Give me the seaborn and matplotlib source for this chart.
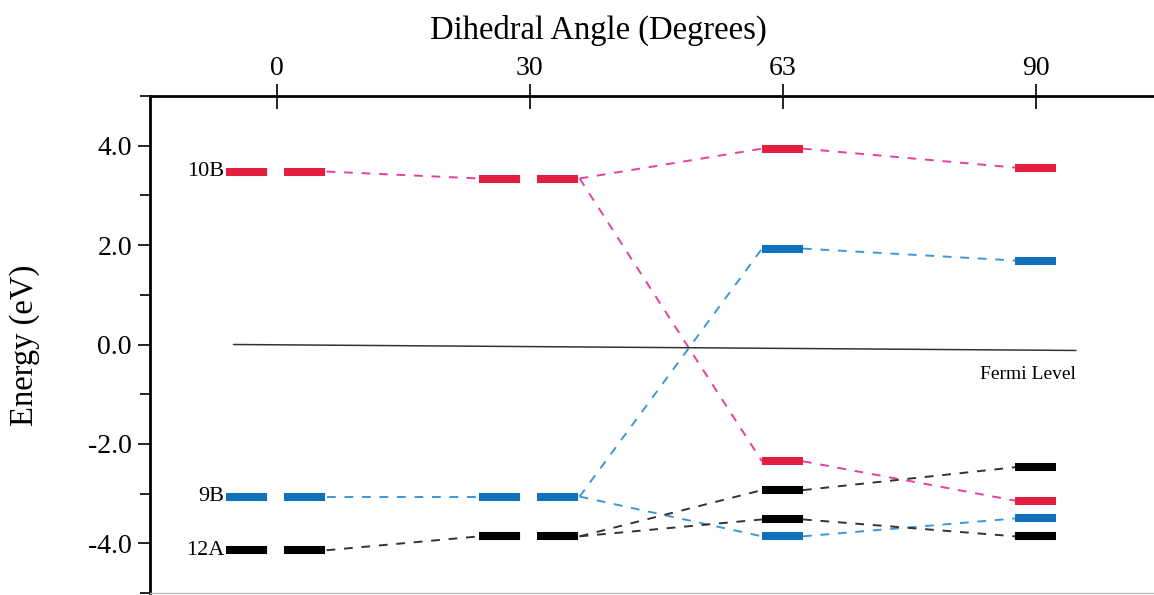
import numpy as np
import pandas as pd
import matplotlib
matplotlib.use("Agg")
import matplotlib.pyplot as plt
import seaborn as sns
from matplotlib.ticker import MultipleLocator, FormatStrFormatter

# ---------------- data ----------------
angle_labels = ["0", "30", "63", "90"]
level_pos = [0, 0, 0,
             1, 1, 1,
             2, 2, 2, 2, 2, 2,
             3, 3, 3, 3, 3, 3]
level_energy = [3.48, -3.06, -4.14,
                3.34, -3.06, -3.86,
                3.94, 1.93, -2.35, -2.93, -3.52, -3.86,
                3.56, 1.69, -2.47, -3.14, -3.50, -3.86]
level_kind = ["red", "blue", "black",
              "red", "blue", "black",
              "red", "blue", "red", "black", "black", "blue",
              "red", "blue", "black", "red", "blue", "black"]
conn_from = [0, 3, 6, 3, 8, 1, 4, 7, 4, 11, 2, 5, 5, 9, 10]
conn_to = [3, 6, 12, 8, 15, 4, 7, 13, 11, 16, 5, 9, 10, 14, 17]
label_levels = [0, 1, 2]
label_names = ["10B", "9B", "12A"]
fermi_x = [-0.17, 3.16]
fermi_y = [0.0, -0.12]

# ---------------- style ----------------
sns.set_theme(style="white")
plt.rcParams["font.family"] = ["Liberation Serif", "DejaVu Serif"]
plt.rcParams["axes.unicode_minus"] = False
plt.rcParams["text.color"] = "black"
plt.rcParams["xtick.color"] = "black"
plt.rcParams["ytick.color"] = "black"
plt.rcParams["xtick.labelcolor"] = "black"
plt.rcParams["ytick.labelcolor"] = "black"

bar_pal = {"red": "#E21F3F", "blue": "#1172BB", "black": "#000000"}
conn_pal = {"red": "#E8409A", "blue": "#3A98D8", "black": "#333333"}
wide_hw, narrow_hw = 0.198, 0.081


def half_width(p):
    return wide_hw if p < 2 else narrow_hw


fig = plt.figure(figsize=(11.54, 5.95), dpi=100)
ax = fig.add_axes([150 / 1154, 2 / 595, 1012 / 1154, 497 / 595])

# connectors
rows = []
for k, (a, b) in enumerate(zip(conn_from, conn_to)):
    rows.append(dict(seg=k, x=level_pos[a] + half_width(level_pos[a]),
                     y=level_energy[a], kind=level_kind[a]))
    rows.append(dict(seg=k, x=level_pos[b] - half_width(level_pos[b]),
                     y=level_energy[b], kind=level_kind[a]))
conn_df = pd.DataFrame(rows)
sns.lineplot(data=conn_df, x="x", y="y", hue="kind", units="seg",
             estimator=None, sort=False, palette=conn_pal, legend=False,
             lw=1.4, linestyle=(0, (4.5, 4.5)), ax=ax)

# levels
rows = []
for i, (p, e, c) in enumerate(zip(level_pos, level_energy, level_kind)):
    hw = half_width(p)
    rows.append(dict(lev=i, x=p - hw, y=e, kind=c, wide=p < 2))
    rows.append(dict(lev=i, x=p + hw, y=e, kind=c, wide=p < 2))
lev_df = pd.DataFrame(rows)
sns.lineplot(data=lev_df[lev_df.wide], x="x", y="y", hue="kind", units="lev",
             estimator=None, sort=False, palette=bar_pal, legend=False,
             lw=5.8, linestyle=(0, (5.1, 2.1)), solid_capstyle="butt",
             dash_capstyle="butt", ax=ax)
sns.lineplot(data=lev_df[~lev_df.wide], x="x", y="y", hue="kind", units="lev",
             estimator=None, sort=False, palette=bar_pal, legend=False,
             lw=5.8, solid_capstyle="butt", ax=ax)

# fermi level
ax.plot(fermi_x, fermi_y, color="#333333", lw=1.1)
ax.text(fermi_x[1], -0.6, "Fermi Level", ha="right", va="center",
        fontsize=14, color="black")

# level labels
for idx, name in zip(label_levels, label_names):
    ax.text(level_pos[idx] - wide_hw - 0.008, level_energy[idx], name,
            ha="right", va="center", fontsize=16, color="black")

# axes
ax.set_xlim(-0.5, 3.5)
ax.set_ylim(-5.0, 5.0)
ax.xaxis.tick_top()
ax.set_xticks(range(len(angle_labels)))
ax.set_xticklabels(angle_labels)
ax.set_xlabel("")
ax.set_ylabel("")
ax.yaxis.set_major_locator(MultipleLocator(2.0))
ax.yaxis.set_minor_locator(MultipleLocator(1.0))
ax.yaxis.set_major_formatter(FormatStrFormatter("%.1f"))
ax.tick_params(axis="x", which="major", direction="inout", length=18,
               width=1.2, pad=2, labelsize=20, colors="black",
               top=True, bottom=False)
ax.tick_params(axis="y", which="major", direction="out", length=9,
               width=1.2, pad=4, labelsize=20, left=True, colors="black")
ax.tick_params(axis="y", which="minor", direction="out", length=7,
               width=1.2, left=True, colors="black")
for s in ["left", "top"]:
    ax.spines[s].set_linewidth(2.0)
    ax.spines[s].set_color("black")
ax.spines["bottom"].set_linewidth(1.0)
ax.spines["bottom"].set_color("#BBBBBB")
ax.spines["right"].set_visible(False)

fig.text(598 / 1154, 1 - 30 / 595, "Dihedral Angle (Degrees)",
         ha="center", va="center", fontsize=23.5, color="black")
fig.text(25 / 1154, 1 - 345 / 595, "Energy (eV)", ha="center", va="center",
         rotation=90, fontsize=23.5, color="black")

fig.savefig("out.png", dpi=100)
